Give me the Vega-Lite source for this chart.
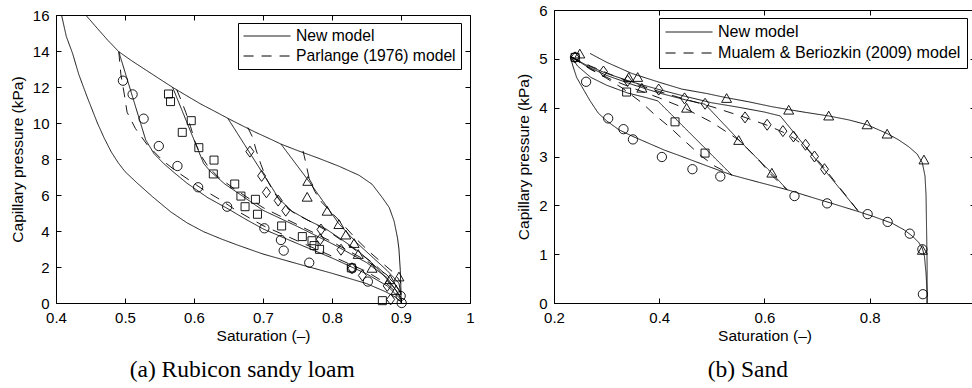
{
"$schema": "https://vega.github.io/schema/vega-lite/v6.json",
"background": "white",
"padding": {"left": 10, "top": 2, "right": 0, "bottom": 0},
"spacing": 41,
"config": {
  "view": {"stroke": "black", "strokeWidth": 1},
  "font": "Liberation Sans",
  "axis": {"grid": false, "domainColor": "black", "tickColor": "black", "labelColor": "black", "titleColor": "black", "labelFontSize": 15, "titleFontSize": 15.5, "titleFontWeight": "normal", "tickSize": -5, "labelPadding": 12, "labelFlush": false, "labelOverlap": false, "labelFont": "Liberation Sans", "titleFont": "Liberation Sans", "format": "~g"},
  "axisX": {"titlePadding": 3},
  "axisY": {"titlePadding": 7},
  "legend": {"orient": "top-right", "offset": 8, "symbolType": "stroke", "symbolSize": 2200, "clipHeight": 16, "symbolStrokeWidth": 1, "symbolStrokeColor": "black", "labelFontSize": 15.7, "labelColor": "black", "labelFont": "Liberation Sans", "labelOffset": 5, "strokeColor": "black", "fillColor": "white", "padding": 5, "rowPadding": 4, "cornerRadius": 0, "labelLimit": 400}
},
"datasets": {
  "linesA": [
    {"c":"dry","m":"New model","S":0.443,"P":16},{"c":"dry","m":"New model","S":0.46,"P":15.25},{"c":"dry","m":"New model","S":0.475,"P":14.6},{"c":"dry","m":"New model","S":0.491,"P":13.96},{"c":"dry","m":"New model","S":0.51,"P":13.45},{"c":"dry","m":"New model","S":0.53,"P":12.95},{"c":"dry","m":"New model","S":0.55,"P":12.45},{"c":"dry","m":"New model","S":0.569,"P":11.98},{"c":"dry","m":"New model","S":0.59,"P":11.5},{"c":"dry","m":"New model","S":0.61,"P":11.05},{"c":"dry","m":"New model","S":0.63,"P":10.65},{"c":"dry","m":"New model","S":0.649,"P":10.26},{"c":"dry","m":"New model","S":0.67,"P":9.85},{"c":"dry","m":"New model","S":0.69,"P":9.47},{"c":"dry","m":"New model","S":0.71,"P":9.12},{"c":"dry","m":"New model","S":0.726,"P":8.83},{"c":"dry","m":"New model","S":0.75,"P":8.47},{"c":"dry","m":"New model","S":0.78,"P":8.05},{"c":"dry","m":"New model","S":0.81,"P":7.6},{"c":"dry","m":"New model","S":0.839,"P":7.1},{"c":"dry","m":"New model","S":0.858,"P":6.6},{"c":"dry","m":"New model","S":0.873,"P":5.85},{"c":"dry","m":"New model","S":0.883,"P":5.3},{"c":"dry","m":"New model","S":0.89,"P":4.55},{"c":"dry","m":"New model","S":0.895,"P":3.6},{"c":"dry","m":"New model","S":0.897,"P":3.0},{"c":"dry","m":"New model","S":0.899,"P":1.8},{"c":"dry","m":"New model","S":0.9,"P":0.6},{"c":"dry","m":"New model","S":0.9,"P":0},
    {"c":"wet","m":"New model","S":0.408,"P":16},{"c":"wet","m":"New model","S":0.415,"P":14.8},{"c":"wet","m":"New model","S":0.424,"P":13.87},{"c":"wet","m":"New model","S":0.433,"P":12.7},{"c":"wet","m":"New model","S":0.445,"P":11.46},{"c":"wet","m":"New model","S":0.46,"P":10.0},{"c":"wet","m":"New model","S":0.47,"P":9.15},{"c":"wet","m":"New model","S":0.48,"P":8.4},{"c":"wet","m":"New model","S":0.49,"P":7.8},{"c":"wet","m":"New model","S":0.5,"P":7.3},{"c":"wet","m":"New model","S":0.518,"P":6.65},{"c":"wet","m":"New model","S":0.54,"P":5.9},{"c":"wet","m":"New model","S":0.566,"P":5.07},{"c":"wet","m":"New model","S":0.59,"P":4.45},{"c":"wet","m":"New model","S":0.614,"P":3.96},{"c":"wet","m":"New model","S":0.64,"P":3.55},{"c":"wet","m":"New model","S":0.663,"P":3.22},{"c":"wet","m":"New model","S":0.7,"P":2.72},{"c":"wet","m":"New model","S":0.75,"P":2.18},{"c":"wet","m":"New model","S":0.8,"P":1.65},{"c":"wet","m":"New model","S":0.85,"P":1.08},{"c":"wet","m":"New model","S":0.878,"P":0.62},{"c":"wet","m":"New model","S":0.893,"P":0.3},{"c":"wet","m":"New model","S":0.9,"P":0.05},
    {"c":"circ","m":"New model","S":0.491,"P":13.96},{"c":"circ","m":"New model","S":0.53,"P":9.06},{"c":"circ","m":"New model","S":0.542,"P":8.3},{"c":"circ","m":"New model","S":0.556,"P":7.75},{"c":"circ","m":"New model","S":0.571,"P":7.25},{"c":"circ","m":"New model","S":0.59,"P":6.65},{"c":"circ","m":"New model","S":0.62,"P":5.85},{"c":"circ","m":"New model","S":0.648,"P":5.26},{"c":"circ","m":"New model","S":0.675,"P":4.65},{"c":"circ","m":"New model","S":0.701,"P":4.1},{"c":"circ","m":"New model","S":0.75,"P":3.3},{"c":"circ","m":"New model","S":0.8,"P":2.5},{"c":"circ","m":"New model","S":0.85,"P":1.62},{"c":"circ","m":"New model","S":0.88,"P":0.95},{"c":"circ","m":"New model","S":0.9,"P":0.2},
    {"c":"sq","m":"New model","S":0.569,"P":11.98},{"c":"sq","m":"New model","S":0.614,"P":7.75},{"c":"sq","m":"New model","S":0.624,"P":7.3},{"c":"sq","m":"New model","S":0.645,"P":6.6},{"c":"sq","m":"New model","S":0.668,"P":6.0},{"c":"sq","m":"New model","S":0.7,"P":5.15},{"c":"sq","m":"New model","S":0.75,"P":4.25},{"c":"sq","m":"New model","S":0.8,"P":3.3},{"c":"sq","m":"New model","S":0.85,"P":2.25},{"c":"sq","m":"New model","S":0.88,"P":1.4},{"c":"sq","m":"New model","S":0.9,"P":0.3},
    {"c":"dia","m":"New model","S":0.649,"P":10.26},{"c":"dia","m":"New model","S":0.723,"P":5.8},{"c":"dia","m":"New model","S":0.742,"P":5.1},{"c":"dia","m":"New model","S":0.765,"P":4.6},{"c":"dia","m":"New model","S":0.791,"P":4.12},{"c":"dia","m":"New model","S":0.815,"P":3.5},{"c":"dia","m":"New model","S":0.839,"P":2.85},{"c":"dia","m":"New model","S":0.86,"P":2.15},{"c":"dia","m":"New model","S":0.878,"P":1.4},{"c":"dia","m":"New model","S":0.893,"P":0.7},{"c":"dia","m":"New model","S":0.9,"P":0.2},
    {"c":"tri","m":"New model","S":0.726,"P":8.83},{"c":"tri","m":"New model","S":0.767,"P":6.74},{"c":"tri","m":"New model","S":0.81,"P":4.4},{"c":"tri","m":"New model","S":0.834,"P":3.41},{"c":"tri","m":"New model","S":0.86,"P":2.5},{"c":"tri","m":"New model","S":0.88,"P":1.8},{"c":"tri","m":"New model","S":0.897,"P":1.1},{"c":"tri","m":"New model","S":0.9,"P":0.5},
    {"c":"circD","m":"Parlange (1976) model","S":0.491,"P":13.96},{"c":"circD","m":"Parlange (1976) model","S":0.494,"P":12.7},{"c":"circD","m":"Parlange (1976) model","S":0.499,"P":11.6},{"c":"circD","m":"Parlange (1976) model","S":0.503,"P":10.6},{"c":"circD","m":"Parlange (1976) model","S":0.515,"P":9.7},{"c":"circD","m":"Parlange (1976) model","S":0.532,"P":8.8},{"c":"circD","m":"Parlange (1976) model","S":0.555,"P":7.9},{"c":"circD","m":"Parlange (1976) model","S":0.575,"P":7.3},{"c":"circD","m":"Parlange (1976) model","S":0.593,"P":6.83},{"c":"circD","m":"Parlange (1976) model","S":0.614,"P":6.28},{"c":"circD","m":"Parlange (1976) model","S":0.639,"P":5.72},{"c":"circD","m":"Parlange (1976) model","S":0.66,"P":5.17},{"c":"circD","m":"Parlange (1976) model","S":0.7,"P":4.3},{"c":"circD","m":"Parlange (1976) model","S":0.75,"P":3.45},{"c":"circD","m":"Parlange (1976) model","S":0.8,"P":2.6},{"c":"circD","m":"Parlange (1976) model","S":0.85,"P":1.75},{"c":"circD","m":"Parlange (1976) model","S":0.88,"P":1.05},{"c":"circD","m":"Parlange (1976) model","S":0.9,"P":0.35},
    {"c":"sqD","m":"Parlange (1976) model","S":0.575,"P":11.85},{"c":"sqD","m":"Parlange (1976) model","S":0.581,"P":11.3},{"c":"sqD","m":"Parlange (1976) model","S":0.588,"P":10.6},{"c":"sqD","m":"Parlange (1976) model","S":0.595,"P":9.8},{"c":"sqD","m":"Parlange (1976) model","S":0.602,"P":8.9},{"c":"sqD","m":"Parlange (1976) model","S":0.61,"P":8.2},{"c":"sqD","m":"Parlange (1976) model","S":0.62,"P":7.6},{"c":"sqD","m":"Parlange (1976) model","S":0.635,"P":7.0},{"c":"sqD","m":"Parlange (1976) model","S":0.66,"P":6.3},{"c":"sqD","m":"Parlange (1976) model","S":0.7,"P":5.3},{"c":"sqD","m":"Parlange (1976) model","S":0.75,"P":4.35},{"c":"sqD","m":"Parlange (1976) model","S":0.8,"P":3.4},{"c":"sqD","m":"Parlange (1976) model","S":0.85,"P":2.35},{"c":"sqD","m":"Parlange (1976) model","S":0.88,"P":1.55},{"c":"sqD","m":"Parlange (1976) model","S":0.9,"P":0.6},
    {"c":"diaD","m":"Parlange (1976) model","S":0.678,"P":9.75},{"c":"diaD","m":"Parlange (1976) model","S":0.685,"P":9.2},{"c":"diaD","m":"Parlange (1976) model","S":0.69,"P":8.5},{"c":"diaD","m":"Parlange (1976) model","S":0.697,"P":7.7},{"c":"diaD","m":"Parlange (1976) model","S":0.705,"P":6.9},{"c":"diaD","m":"Parlange (1976) model","S":0.715,"P":6.2},{"c":"diaD","m":"Parlange (1976) model","S":0.728,"P":5.5},{"c":"diaD","m":"Parlange (1976) model","S":0.745,"P":5.0},{"c":"diaD","m":"Parlange (1976) model","S":0.77,"P":4.5},{"c":"diaD","m":"Parlange (1976) model","S":0.8,"P":3.85},{"c":"diaD","m":"Parlange (1976) model","S":0.83,"P":3.05},{"c":"diaD","m":"Parlange (1976) model","S":0.86,"P":2.2},{"c":"diaD","m":"Parlange (1976) model","S":0.88,"P":1.5},{"c":"diaD","m":"Parlange (1976) model","S":0.9,"P":0.7},
    {"c":"triD","m":"Parlange (1976) model","S":0.758,"P":8.45},{"c":"triD","m":"Parlange (1976) model","S":0.762,"P":7.8},{"c":"triD","m":"Parlange (1976) model","S":0.767,"P":6.9},{"c":"triD","m":"Parlange (1976) model","S":0.775,"P":6.2},{"c":"triD","m":"Parlange (1976) model","S":0.785,"P":5.6},{"c":"triD","m":"Parlange (1976) model","S":0.8,"P":5.0},{"c":"triD","m":"Parlange (1976) model","S":0.815,"P":4.4},{"c":"triD","m":"Parlange (1976) model","S":0.834,"P":3.6},{"c":"triD","m":"Parlange (1976) model","S":0.854,"P":2.85},{"c":"triD","m":"Parlange (1976) model","S":0.875,"P":2.15},{"c":"triD","m":"Parlange (1976) model","S":0.892,"P":1.6},{"c":"triD","m":"Parlange (1976) model","S":0.9,"P":1.1}
  ],
  "ptsA": [
    {"k":"circle","S":0.497,"P":12.35},{"k":"circle","S":0.511,"P":11.59},{"k":"circle","S":0.527,"P":10.24},{"k":"circle","S":0.549,"P":8.72},{"k":"circle","S":0.576,"P":7.61},{"k":"circle","S":0.606,"P":6.43},{"k":"circle","S":0.648,"P":5.35},{"k":"circle","S":0.702,"P":4.15},{"k":"circle","S":0.726,"P":3.5},{"k":"circle","S":0.73,"P":2.91},{"k":"circle","S":0.767,"P":2.24},{"k":"circle","S":0.829,"P":1.93},{"k":"circle","S":0.852,"P":1.19},{"k":"circle","S":0.8995,"P":0.39},{"k":"circle","S":0.901,"P":0.0},
    {"k":"square","S":0.563,"P":11.61},{"k":"square","S":0.566,"P":11.19},{"k":"square","S":0.596,"P":10.13},{"k":"square","S":0.583,"P":9.48},{"k":"square","S":0.607,"P":8.63},{"k":"square","S":0.629,"P":7.94},{"k":"square","S":0.628,"P":7.17},{"k":"square","S":0.659,"P":6.61},{"k":"square","S":0.668,"P":5.94},{"k":"square","S":0.689,"P":5.76},{"k":"square","S":0.674,"P":5.35},{"k":"square","S":0.692,"P":4.93},{"k":"square","S":0.727,"P":4.28},{"k":"square","S":0.757,"P":3.69},{"k":"square","S":0.771,"P":3.46},{"k":"square","S":0.774,"P":3.19},{"k":"square","S":0.782,"P":2.98},{"k":"square","S":0.828,"P":1.95},{"k":"square","S":0.873,"P":0.13},
    {"k":"diamond","S":0.681,"P":8.41},{"k":"diamond","S":0.698,"P":7.06},{"k":"diamond","S":0.705,"P":6.15},{"k":"diamond","S":0.722,"P":5.69},{"k":"diamond","S":0.733,"P":5.13},{"k":"diamond","S":0.784,"P":4.08},{"k":"diamond","S":0.783,"P":3.54},{"k":"diamond","S":0.813,"P":2.96},{"k":"diamond","S":0.829,"P":1.93},{"k":"diamond","S":0.844,"P":1.53},{"k":"diamond","S":0.88,"P":0.95},{"k":"diamond","S":0.885,"P":0.2},
    {"k":"triangle","S":0.765,"P":6.76},{"k":"triangle","S":0.764,"P":5.88},{"k":"triangle","S":0.793,"P":5.1},{"k":"triangle","S":0.81,"P":4.36},{"k":"triangle","S":0.82,"P":3.78},{"k":"triangle","S":0.832,"P":3.31},{"k":"triangle","S":0.838,"P":2.7},{"k":"triangle","S":0.858,"P":1.93},{"k":"triangle","S":0.884,"P":1.3},{"k":"triangle","S":0.897,"P":1.45},{"k":"triangle","S":0.893,"P":0.7}
  ],
  "linesB": [
    {"c":"dry","m":"New model","S":0.2686,"P":5.11},{"c":"dry","m":"New model","S":0.3,"P":4.93},{"c":"dry","m":"New model","S":0.348,"P":4.7},{"c":"dry","m":"New model","S":0.4,"P":4.52},{"c":"dry","m":"New model","S":0.443,"P":4.38},{"c":"dry","m":"New model","S":0.49,"P":4.29},{"c":"dry","m":"New model","S":0.525,"P":4.21},{"c":"dry","m":"New model","S":0.57,"P":4.12},{"c":"dry","m":"New model","S":0.614,"P":4.02},{"c":"dry","m":"New model","S":0.646,"P":3.96},{"c":"dry","m":"New model","S":0.68,"P":3.9},{"c":"dry","m":"New model","S":0.722,"P":3.83},{"c":"dry","m":"New model","S":0.76,"P":3.75},{"c":"dry","m":"New model","S":0.795,"P":3.65},{"c":"dry","m":"New model","S":0.833,"P":3.47},{"c":"dry","m":"New model","S":0.855,"P":3.34},{"c":"dry","m":"New model","S":0.874,"P":3.2},{"c":"dry","m":"New model","S":0.89,"P":3.05},{"c":"dry","m":"New model","S":0.9,"P":2.87},{"c":"dry","m":"New model","S":0.905,"P":2.6},{"c":"dry","m":"New model","S":0.907,"P":2.2},{"c":"dry","m":"New model","S":0.908,"P":1.5},{"c":"dry","m":"New model","S":0.909,"P":0.8},{"c":"dry","m":"New model","S":0.909,"P":0},
    {"c":"wet","m":"New model","S":0.231,"P":5.05},{"c":"wet","m":"New model","S":0.236,"P":4.85},{"c":"wet","m":"New model","S":0.243,"P":4.62},{"c":"wet","m":"New model","S":0.253,"P":4.43},{"c":"wet","m":"New model","S":0.268,"P":4.15},{"c":"wet","m":"New model","S":0.284,"P":3.89},{"c":"wet","m":"New model","S":0.3,"P":3.73},{"c":"wet","m":"New model","S":0.323,"P":3.55},{"c":"wet","m":"New model","S":0.35,"P":3.41},{"c":"wet","m":"New model","S":0.38,"P":3.27},{"c":"wet","m":"New model","S":0.41,"P":3.13},{"c":"wet","m":"New model","S":0.443,"P":3.0},{"c":"wet","m":"New model","S":0.49,"P":2.81},{"c":"wet","m":"New model","S":0.538,"P":2.62},{"c":"wet","m":"New model","S":0.59,"P":2.47},{"c":"wet","m":"New model","S":0.643,"P":2.32},{"c":"wet","m":"New model","S":0.7,"P":2.13},{"c":"wet","m":"New model","S":0.728,"P":2.04},{"c":"wet","m":"New model","S":0.779,"P":1.87},{"c":"wet","m":"New model","S":0.81,"P":1.76},{"c":"wet","m":"New model","S":0.843,"P":1.63},{"c":"wet","m":"New model","S":0.865,"P":1.5},{"c":"wet","m":"New model","S":0.881,"P":1.37},{"c":"wet","m":"New model","S":0.893,"P":1.24},{"c":"wet","m":"New model","S":0.9,"P":1.12},{"c":"wet","m":"New model","S":0.904,"P":0.95},{"c":"wet","m":"New model","S":0.907,"P":0.6},{"c":"wet","m":"New model","S":0.909,"P":0.2},{"c":"wet","m":"New model","S":0.909,"P":0},
    {"c":"dia","m":"New model","S":0.233,"P":5.04},{"c":"dia","m":"New model","S":0.26,"P":4.88},{"c":"dia","m":"New model","S":0.3,"P":4.7},{"c":"dia","m":"New model","S":0.35,"P":4.52},{"c":"dia","m":"New model","S":0.4,"P":4.37},{"c":"dia","m":"New model","S":0.45,"P":4.23},{"c":"dia","m":"New model","S":0.5,"P":4.1},{"c":"dia","m":"New model","S":0.55,"P":4.01},{"c":"dia","m":"New model","S":0.6,"P":3.91},{"c":"dia","m":"New model","S":0.63,"P":3.83},{"c":"dia","m":"New model","S":0.779,"P":1.87},
    {"c":"tri","m":"New model","S":0.233,"P":5.04},{"c":"tri","m":"New model","S":0.26,"P":4.86},{"c":"tri","m":"New model","S":0.3,"P":4.66},{"c":"tri","m":"New model","S":0.35,"P":4.47},{"c":"tri","m":"New model","S":0.4,"P":4.3},{"c":"tri","m":"New model","S":0.45,"P":4.16},{"c":"tri","m":"New model","S":0.487,"P":4.07},{"c":"tri","m":"New model","S":0.551,"P":3.34},{"c":"tri","m":"New model","S":0.614,"P":2.66},{"c":"tri","m":"New model","S":0.643,"P":2.32},
    {"c":"sq","m":"New model","S":0.233,"P":5.04},{"c":"sq","m":"New model","S":0.245,"P":4.85},{"c":"sq","m":"New model","S":0.27,"P":4.62},{"c":"sq","m":"New model","S":0.3,"P":4.46},{"c":"sq","m":"New model","S":0.34,"P":4.3},{"c":"sq","m":"New model","S":0.37,"P":4.22},{"c":"sq","m":"New model","S":0.397,"P":4.14},{"c":"sq","m":"New model","S":0.538,"P":2.62},
    {"c":"sqD","m":"Mualem & Beriozkin (2009) model","S":0.233,"P":5.04},{"c":"sqD","m":"Mualem & Beriozkin (2009) model","S":0.25,"P":4.92},{"c":"sqD","m":"Mualem & Beriozkin (2009) model","S":0.272,"P":4.78},{"c":"sqD","m":"Mualem & Beriozkin (2009) model","S":0.3,"P":4.6},{"c":"sqD","m":"Mualem & Beriozkin (2009) model","S":0.33,"P":4.4},{"c":"sqD","m":"Mualem & Beriozkin (2009) model","S":0.367,"P":4.1},{"c":"sqD","m":"Mualem & Beriozkin (2009) model","S":0.392,"P":3.85},{"c":"sqD","m":"Mualem & Beriozkin (2009) model","S":0.42,"P":3.6},{"c":"sqD","m":"Mualem & Beriozkin (2009) model","S":0.446,"P":3.34},{"c":"sqD","m":"Mualem & Beriozkin (2009) model","S":0.481,"P":3.0},{"c":"sqD","m":"Mualem & Beriozkin (2009) model","S":0.506,"P":2.8},{"c":"sqD","m":"Mualem & Beriozkin (2009) model","S":0.538,"P":2.62},
    {"c":"triD","m":"Mualem & Beriozkin (2009) model","S":0.233,"P":5.04},{"c":"triD","m":"Mualem & Beriozkin (2009) model","S":0.27,"P":4.78},{"c":"triD","m":"Mualem & Beriozkin (2009) model","S":0.31,"P":4.57},{"c":"triD","m":"Mualem & Beriozkin (2009) model","S":0.35,"P":4.4},{"c":"triD","m":"Mualem & Beriozkin (2009) model","S":0.4,"P":4.2},{"c":"triD","m":"Mualem & Beriozkin (2009) model","S":0.45,"P":3.98},{"c":"triD","m":"Mualem & Beriozkin (2009) model","S":0.5,"P":3.7},{"c":"triD","m":"Mualem & Beriozkin (2009) model","S":0.551,"P":3.34},{"c":"triD","m":"Mualem & Beriozkin (2009) model","S":0.589,"P":2.93},{"c":"triD","m":"Mualem & Beriozkin (2009) model","S":0.615,"P":2.6},{"c":"triD","m":"Mualem & Beriozkin (2009) model","S":0.643,"P":2.32},
    {"c":"diaD","m":"Mualem & Beriozkin (2009) model","S":0.233,"P":5.04},{"c":"diaD","m":"Mualem & Beriozkin (2009) model","S":0.27,"P":4.85},{"c":"diaD","m":"Mualem & Beriozkin (2009) model","S":0.31,"P":4.67},{"c":"diaD","m":"Mualem & Beriozkin (2009) model","S":0.35,"P":4.5},{"c":"diaD","m":"Mualem & Beriozkin (2009) model","S":0.4,"P":4.33},{"c":"diaD","m":"Mualem & Beriozkin (2009) model","S":0.45,"P":4.17},{"c":"diaD","m":"Mualem & Beriozkin (2009) model","S":0.5,"P":4.02},{"c":"diaD","m":"Mualem & Beriozkin (2009) model","S":0.563,"P":3.8},{"c":"diaD","m":"Mualem & Beriozkin (2009) model","S":0.605,"P":3.64},{"c":"diaD","m":"Mualem & Beriozkin (2009) model","S":0.635,"P":3.5},{"c":"diaD","m":"Mualem & Beriozkin (2009) model","S":0.655,"P":3.38},{"c":"diaD","m":"Mualem & Beriozkin (2009) model","S":0.678,"P":3.2},{"c":"diaD","m":"Mualem & Beriozkin (2009) model","S":0.695,"P":3.0},{"c":"diaD","m":"Mualem & Beriozkin (2009) model","S":0.714,"P":2.76},{"c":"diaD","m":"Mualem & Beriozkin (2009) model","S":0.74,"P":2.4},{"c":"diaD","m":"Mualem & Beriozkin (2009) model","S":0.76,"P":2.13},{"c":"diaD","m":"Mualem & Beriozkin (2009) model","S":0.779,"P":1.87}
  ],
  "ptsB": [
    {"k":"circle","S":0.24,"P":5.03},{"k":"circle","S":0.261,"P":4.53},{"k":"circle","S":0.303,"P":3.78},{"k":"circle","S":0.332,"P":3.56},{"k":"circle","S":0.35,"P":3.35},{"k":"circle","S":0.405,"P":2.99},{"k":"circle","S":0.463,"P":2.74},{"k":"circle","S":0.516,"P":2.59},{"k":"circle","S":0.657,"P":2.19},{"k":"circle","S":0.719,"P":2.04},{"k":"circle","S":0.796,"P":1.82},{"k":"circle","S":0.834,"P":1.66},{"k":"circle","S":0.876,"P":1.42},{"k":"circle","S":0.9,"P":1.1},{"k":"circle","S":0.901,"P":0.18},
    {"k":"square","S":0.24,"P":5.03},{"k":"square","S":0.338,"P":4.32},{"k":"square","S":0.43,"P":3.71},{"k":"square","S":0.487,"P":3.07},
    {"k":"diamond","S":0.24,"P":5.03},{"k":"diamond","S":0.294,"P":4.74},{"k":"diamond","S":0.34,"P":4.55},{"k":"diamond","S":0.399,"P":4.37},{"k":"diamond","S":0.448,"P":4.19},{"k":"diamond","S":0.487,"P":4.08},{"k":"diamond","S":0.563,"P":3.8},{"k":"diamond","S":0.605,"P":3.65},{"k":"diamond","S":0.635,"P":3.52},{"k":"diamond","S":0.655,"P":3.41},{"k":"diamond","S":0.678,"P":3.24},{"k":"diamond","S":0.695,"P":3.0},{"k":"diamond","S":0.714,"P":2.74},
    {"k":"triangle","S":0.249,"P":5.1},{"k":"triangle","S":0.342,"P":4.62},{"k":"triangle","S":0.359,"P":4.62},{"k":"triangle","S":0.367,"P":4.4},{"k":"triangle","S":0.452,"P":3.99},{"k":"triangle","S":0.528,"P":4.19},{"k":"triangle","S":0.551,"P":3.33},{"k":"triangle","S":0.614,"P":2.66},{"k":"triangle","S":0.646,"P":3.95},{"k":"triangle","S":0.722,"P":3.83},{"k":"triangle","S":0.795,"P":3.65},{"k":"triangle","S":0.833,"P":3.46},{"k":"triangle","S":0.903,"P":2.93},{"k":"triangle","S":0.9,"P":1.08}
  ]
},
"resolve": {"scale": {"strokeDash": "independent", "shape": "independent"}, "legend": {"strokeDash": "independent", "shape": "independent"}},
"hconcat": [
  {
    "title": {"text": "(a) Rubicon sandy loam", "orient": "bottom", "anchor": "middle", "font": "Liberation Serif", "fontSize": 23.5, "fontWeight": "normal", "color": "black", "offset": 14},
    "resolve": {"scale": {"strokeDash": "independent", "shape": "independent"}, "legend": {"strokeDash": "independent", "shape": "independent"}},
    "vconcat": [
      {
        "width": 414, "height": 293,
        "view": {"stroke": null},
        "layer": [
          {
            "data": {"name": "linesA"},
            "mark": {"type": "line", "strokeWidth": 0.9, "color": "black"},
            "encoding": {
              "x": {"field": "S", "type": "quantitative", "scale": {"domain": [0.4, 1], "nice": false, "zero": false}, "axis": {"values": [0.4, 0.5, 0.6, 0.7, 0.8, 0.9, 1], "title": "Saturation (–)"}},
              "y": {"field": "P", "type": "quantitative", "scale": {"domain": [0, 16], "range": [293, 5], "nice": false}, "axis": {"values": [0, 2, 4, 6, 8, 10, 12, 14, 16], "title": "Capillary pressure (kPa)"}},
              "detail": {"field": "c"},
              "order": {"field": "P", "sort": "descending"},
              "strokeDash": {"field": "m", "type": "nominal", "scale": {"domain": ["New model", "Parlange (1976) model"], "range": [[1, 0], [10, 8]]}, "legend": {"title": null, "orient": "none", "legendX": 182, "legendY": 13}}
            }
          },
          {
            "data": {"name": "ptsA"},
            "mark": {"type": "point", "filled": false, "color": "black", "strokeWidth": 0.9, "size": 100, "opacity": 1},
            "encoding": {
              "x": {"field": "S", "type": "quantitative", "scale": {"domain": [0.4, 1], "nice": false, "zero": false}, "axis": {"orient": "top", "labels": false, "domain": true, "offset": -5, "title": null, "values": [0.4, 0.5, 0.6, 0.7, 0.8, 0.9, 1]}},
              "y": {"field": "P", "type": "quantitative", "scale": {"domain": [0, 16], "range": [293, 5], "nice": false}, "axis": {"orient": "right", "labels": false, "domain": true, "title": null, "values": [0, 2, 4, 6, 8, 10, 12, 14, 16]}},
              "shape": {"field": "k", "type": "nominal", "scale": {"domain": ["circle", "square", "diamond", "triangle"], "range": ["M-0.93,0A0.93,0.93,0,1,1,0.93,0A0.93,0.93,0,1,1,-0.93,0Z", "M-0.8,-0.8L0.8,-0.8L0.8,0.8L-0.8,0.8Z", "M-0.8,0L0,-1.1L0.8,0L0,1.1Z", "M0,-0.95L1,0.8L-1,0.8Z"]}, "legend": null}
            }
          }
        ],
        "resolve": {"axis": {"x": "independent", "y": "independent"}}
      }
    ]
  },
  {
    "title": {"text": "(b) Sand", "orient": "bottom", "anchor": "middle", "font": "Liberation Serif", "fontSize": 23.5, "fontWeight": "normal", "color": "black", "offset": 14},
    "resolve": {"scale": {"strokeDash": "independent", "shape": "independent"}, "legend": {"strokeDash": "independent", "shape": "independent"}},
    "vconcat": [
      {
        "width": 421, "height": 293,
        "layer": [
          {
            "data": {"name": "linesB"},
            "mark": {"type": "line", "strokeWidth": 0.9, "color": "black"},
            "encoding": {
              "x": {"field": "S", "type": "quantitative", "scale": {"domain": [0.2, 1], "nice": false, "zero": false}, "axis": {"values": [0.2, 0.4, 0.6, 0.8, 1], "title": "Saturation (–)"}},
              "y": {"field": "P", "type": "quantitative", "scale": {"domain": [0, 6], "nice": false}, "axis": {"values": [0, 1, 2, 3, 4, 5, 6], "title": "Capillary pressure (kPa)"}},
              "detail": {"field": "c"},
              "order": {"field": "P", "sort": "descending"},
              "strokeDash": {"field": "m", "type": "nominal", "scale": {"domain": ["New model", "Mualem & Beriozkin (2009) model"], "range": [[1, 0], [10, 8]]}, "legend": {"title": null, "orient": "top-right", "labelFontSize": 16.1, "padding": 6}}
            }
          },
          {
            "data": {"name": "ptsB"},
            "mark": {"type": "point", "filled": false, "color": "black", "strokeWidth": 0.9, "size": 100, "opacity": 1},
            "encoding": {
              "x": {"field": "S", "type": "quantitative", "scale": {"domain": [0.2, 1], "nice": false, "zero": false}, "axis": {"orient": "top", "labels": false, "domain": false, "title": null, "values": [0.2, 0.4, 0.6, 0.8, 1]}},
              "y": {"field": "P", "type": "quantitative", "scale": {"domain": [0, 6], "nice": false}, "axis": {"orient": "right", "labels": false, "domain": false, "title": null, "values": [0, 1, 2, 3, 4, 5, 6]}},
              "shape": {"field": "k", "type": "nominal", "scale": {"domain": ["circle", "square", "diamond", "triangle"], "range": ["M-0.93,0A0.93,0.93,0,1,1,0.93,0A0.93,0.93,0,1,1,-0.93,0Z", "M-0.8,-0.8L0.8,-0.8L0.8,0.8L-0.8,0.8Z", "M-0.8,0L0,-1.1L0.8,0L0,1.1Z", "M0,-0.95L1,0.8L-1,0.8Z"]}, "legend": null}
            }
          }
        ],
        "resolve": {"axis": {"x": "independent", "y": "independent"}}
      }
    ]
  }
]
}
